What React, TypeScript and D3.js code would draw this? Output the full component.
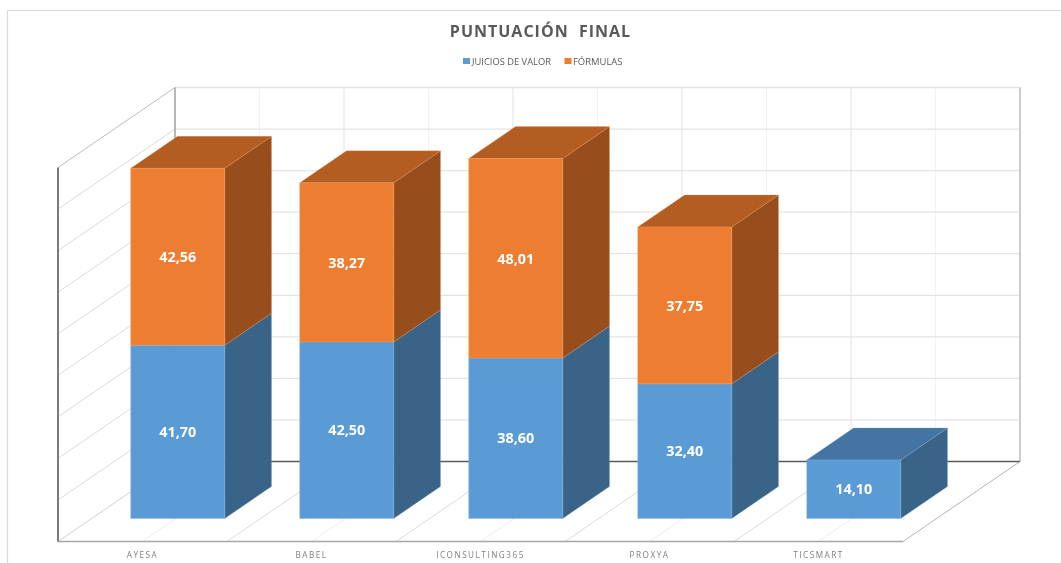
import React from "react";
import * as d3 from "d3";

const categories = ["AYESA", "BABEL", "ICONSULTING365", "PROXYA", "TICSMART"];
const juicios = [41.7, 42.5, 38.6, 32.4, 14.1];
const formulas = [42.56, 38.27, 48.01, 37.75, 0];
const labelsJuicios = ["41,70", "42,50", "38,60", "32,40", "14,10"];
const labelsFormulas = ["42,56", "38,27", "48,01", "37,75", ""];
const yTicks = d3.range(0, 100, 10);

const W = 1061, H = 563;
const x0 = 58, x1 = 903, yBase = 541.5, yTop = 167.5;
const depthX = 117, depthY = 80;
const d0 = 0.2875, d1 = 0.6875;

const y = d3.scaleLinear().domain([0, 90]).range([yBase, yTop]);
const band = d3.scaleBand<string>().domain(categories).range([x0 + 1.6, x1 + 1.6]).paddingInner(0.444).paddingOuter(0.222);
const catStep = d3.scaleLinear().domain([0, 5]).range([x0, x1]);
const P = (x: number, v: number, d: number): [number, number] => [x + depthX * d, y(v) - depthY * d];
const poly = (pts: [number, number][]) => d3.line()(pts)! + "Z";

const palette = {
  blue: { front: "#5B9BD5", top: "#4474A1", side: "#396487", edge: "#7FB0DE" },
  orange: { front: "#ED7D31", top: "#B35D22", side: "#974E1C", edge: "#F09A5E" },
};
const FONT = "'Open Sans', 'Noto Sans', sans-serif";

function Seg({ x, w, a, b, c, showTop }: { x: number; w: number; a: number; b: number; c: typeof palette.blue; showTop: boolean }) {
  const fbl = P(x, a, d0), fbr = P(x + w, a, d0), ftl = P(x, b, d0), ftr = P(x + w, b, d0);
  const bbr = P(x + w, a, d1), btr = P(x + w, b, d1), btl = P(x, b, d1);
  return (
    <g strokeWidth={0.8} strokeLinejoin="round">
      <path d={poly([fbr, bbr, btr, ftr])} fill={c.side} stroke={c.edge} strokeOpacity={0.35} />
      {showTop && <path d={poly([ftl, ftr, btr, btl])} fill={c.top} stroke={c.edge} strokeOpacity={0.35} />}
      <path d={poly([fbl, fbr, ftr, ftl])} fill={c.front} stroke={c.edge} strokeOpacity={0.5} />
    </g>
  );
}

export default function App() {
  const halves = d3.range(0, 11);
  return (
    <svg width={W} height={H} viewBox={`0 0 ${W} ${H}`} style={{ position: "absolute", left: 0, top: 0, background: "#fff", filter: "blur(0.4px)" }} fontFamily={FONT}>
      <path d={`M7.5,${H} V10.5 H${W}`} fill="none" stroke="#D9D9D9" strokeWidth={1.2} />

      <text x={540.5} y={37} textAnchor="middle" fontSize={16} fontWeight={700} fill="#595959" letterSpacing={1.0} xmlSpace="preserve">PUNTUACIÓN  FINAL</text>

      <rect x={463} y={58} width={7} height={6} fill={palette.blue.front} />
      <text x={472} y={65} fontSize={9.2} fill="#595959" textLength={79} lengthAdjust="spacingAndGlyphs">JUICIOS DE VALOR</text>
      <rect x={564.5} y={58} width={7} height={6} fill={palette.orange.front} />
      <text x={573} y={65} fontSize={9.2} fill="#595959" textLength={49.5} lengthAdjust="spacingAndGlyphs">FÓRMULAS</text>

      {halves.map((k) => {
        const xx = x0 + ((x1 - x0) / 10) * k;
        const [a, b] = P(xx, 0, 1);
        const [, t] = P(xx, 90, 1);
        return <line key={"v" + k} x1={a} x2={a} y1={b} y2={t} stroke={k % 2 ? "#F2F2F2" : "#E3E3E3"} strokeWidth={1.1} />;
      })}
      {yTicks.map((t) => {
        const a = P(x0, t, 0), b = P(x0, t, 1), c = P(x1, t, 1);
        return (
          <g key={"h" + t}>
            {t > 0 && <line x1={b[0]} y1={b[1]} x2={c[0]} y2={c[1]} stroke="#E4E4E4" strokeWidth={1.3} />}
            <line x1={a[0]} y1={a[1]} x2={b[0]} y2={b[1]} stroke={t === 90 ? "#BDBDBD" : "#DADADA"} strokeWidth={1} />
          </g>
        );
      })}
      {halves.map((k) => {
        const xx = x0 + ((x1 - x0) / 10) * k;
        const a = P(xx, 0, 0), b = P(xx, 0, 1);
        return <line key={"f" + k} x1={a[0]} y1={a[1]} x2={b[0]} y2={b[1]} stroke={k === 10 ? "#B5B5B5" : k % 2 ? "#EDEDED" : "#DADADA"} strokeWidth={1} />;
      })}
      <line x1={P(x0, 0, 1)[0]} y1={P(x0, 0, 1)[1]} x2={P(x1, 0, 1)[0]} y2={P(x1, 0, 1)[1]} stroke="#5A5A5A" strokeWidth={1.5} />
      <line x1={P(x0, 0, 1)[0]} y1={P(x0, 0, 1)[1]} x2={P(x0, 90, 1)[0]} y2={P(x0, 90, 1)[1]} stroke="#A0A0A0" strokeWidth={1.4} />
      <line x1={P(x1, 0, 1)[0]} y1={P(x1, 0, 1)[1]} x2={P(x1, 90, 1)[0]} y2={P(x1, 90, 1)[1]} stroke="#B5B5B5" strokeWidth={1.2} />
      <line x1={x0} y1={y(0)} x2={x0} y2={y(90)} stroke="#5A5A5A" strokeWidth={1.6} />
      <line x1={x0 - 1} y1={y(0)} x2={x1} y2={y(0)} stroke="#A6A6A6" strokeWidth={1.5} />

      {categories.map((c, i) => {
        const x = band(c)!, w = band.bandwidth();
        const j = juicios[i], f = formulas[i];
        return (
          <g key={c}>
            <Seg x={x} w={w} a={0} b={j} c={palette.blue} showTop={f === 0} />
            {f > 0 && <Seg x={x} w={w} a={j} b={j + f} c={palette.orange} showTop />}
          </g>
        );
      })}

      {categories.map((c, i) => {
        const x = band(c)!, w = band.bandwidth();
        const cx = P(x + w / 2, 0, d0)[0];
        const j = juicios[i], f = formulas[i];
        return (
          <g key={"l" + c} fontSize={14.4} fontWeight={700} fill="#fff" textAnchor="middle">
            <text x={cx} y={P(x, j / 2, d0)[1]} dy="0.36em">{labelsJuicios[i]}</text>
            {f > 0 && <text x={cx} y={P(x, j + f / 2, d0)[1]} dy="0.36em">{labelsFormulas[i]}</text>}
          </g>
        );
      })}

      {categories.map((c, i) => (
        <text key={"c" + c} x={(catStep(i) + catStep(i + 1)) / 2} y={558} textAnchor="middle" fontSize={8.2} fill="#7F7F7F" letterSpacing={1.5}>{c}</text>
      ))}
    </svg>
  );
}
